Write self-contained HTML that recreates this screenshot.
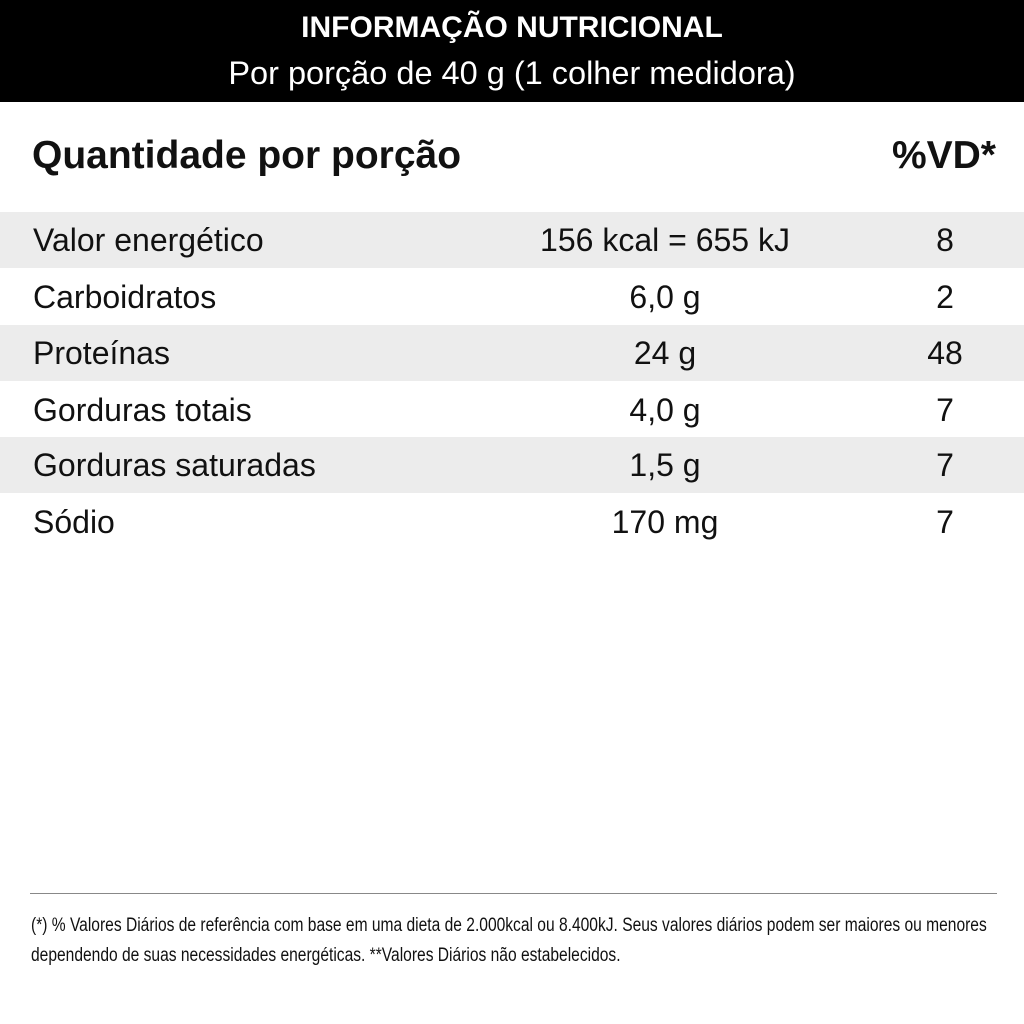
<!DOCTYPE html>
<html><head><meta charset="utf-8"><style>
*{margin:0;padding:0}
body{width:1024px;height:1024px;position:relative;background:#fff;font-family:"Liberation Sans",sans-serif;color:#111;overflow:hidden}
.hdr{position:absolute;left:0;top:0;width:1024px;height:102px;background:#000;color:#fff;text-align:center}
.t1{position:absolute;left:0;right:0;top:10px;font-size:30px;font-weight:bold;line-height:36px}
.t2{position:absolute;left:0;right:0;top:55px;font-size:32.5px;line-height:36px}
.q{position:absolute;left:32px;top:134px;font-size:39px;font-weight:bold;line-height:44px}
.vd{position:absolute;right:28px;top:134px;font-size:39px;font-weight:bold;line-height:44px}
.row{position:absolute;left:0;width:1024px;height:56px;font-size:32px;line-height:56px}
.g{background:#ececec}
.row .a{position:absolute;left:33px}
.row .b{position:absolute;left:465px;width:400px;text-align:center}
.row .c{position:absolute;left:885px;width:120px;text-align:center}
.line{position:absolute;left:30px;width:967px;top:893px;height:1px;background:#888}
.fn{position:absolute;left:31px;top:911px;font-size:19px;line-height:30px;white-space:nowrap;transform:scaleX(0.82);transform-origin:left top}
</style></head><body>
<div class="hdr"><div class="t1">INFORMAÇÃO NUTRICIONAL</div><div class="t2">Por porção de 40 g (1 colher medidora)</div></div>
<div class="q">Quantidade por porção</div>
<div class="vd">%VD*</div>
<div class="row g" style="top:212px"><span class="a">Valor energético</span><span class="b">156 kcal = 655 kJ</span><span class="c">8</span></div>
<div class="row" style="top:269px"><span class="a">Carboidratos</span><span class="b">6,0 g</span><span class="c">2</span></div>
<div class="row g" style="top:325px"><span class="a">Proteínas</span><span class="b">24 g</span><span class="c">48</span></div>
<div class="row" style="top:382px"><span class="a">Gorduras totais</span><span class="b">4,0 g</span><span class="c">7</span></div>
<div class="row g" style="top:437px"><span class="a">Gorduras saturadas</span><span class="b">1,5 g</span><span class="c">7</span></div>
<div class="row" style="top:494px"><span class="a">Sódio</span><span class="b">170 mg</span><span class="c">7</span></div>
<div class="line"></div>
<div class="fn">(*) % Valores Diários de referência com base em uma dieta de 2.000kcal ou 8.400kJ. Seus valores diários podem ser maiores ou menores<br>dependendo de suas necessidades energéticas. **Valores Diários não estabelecidos.</div>
</body></html>
